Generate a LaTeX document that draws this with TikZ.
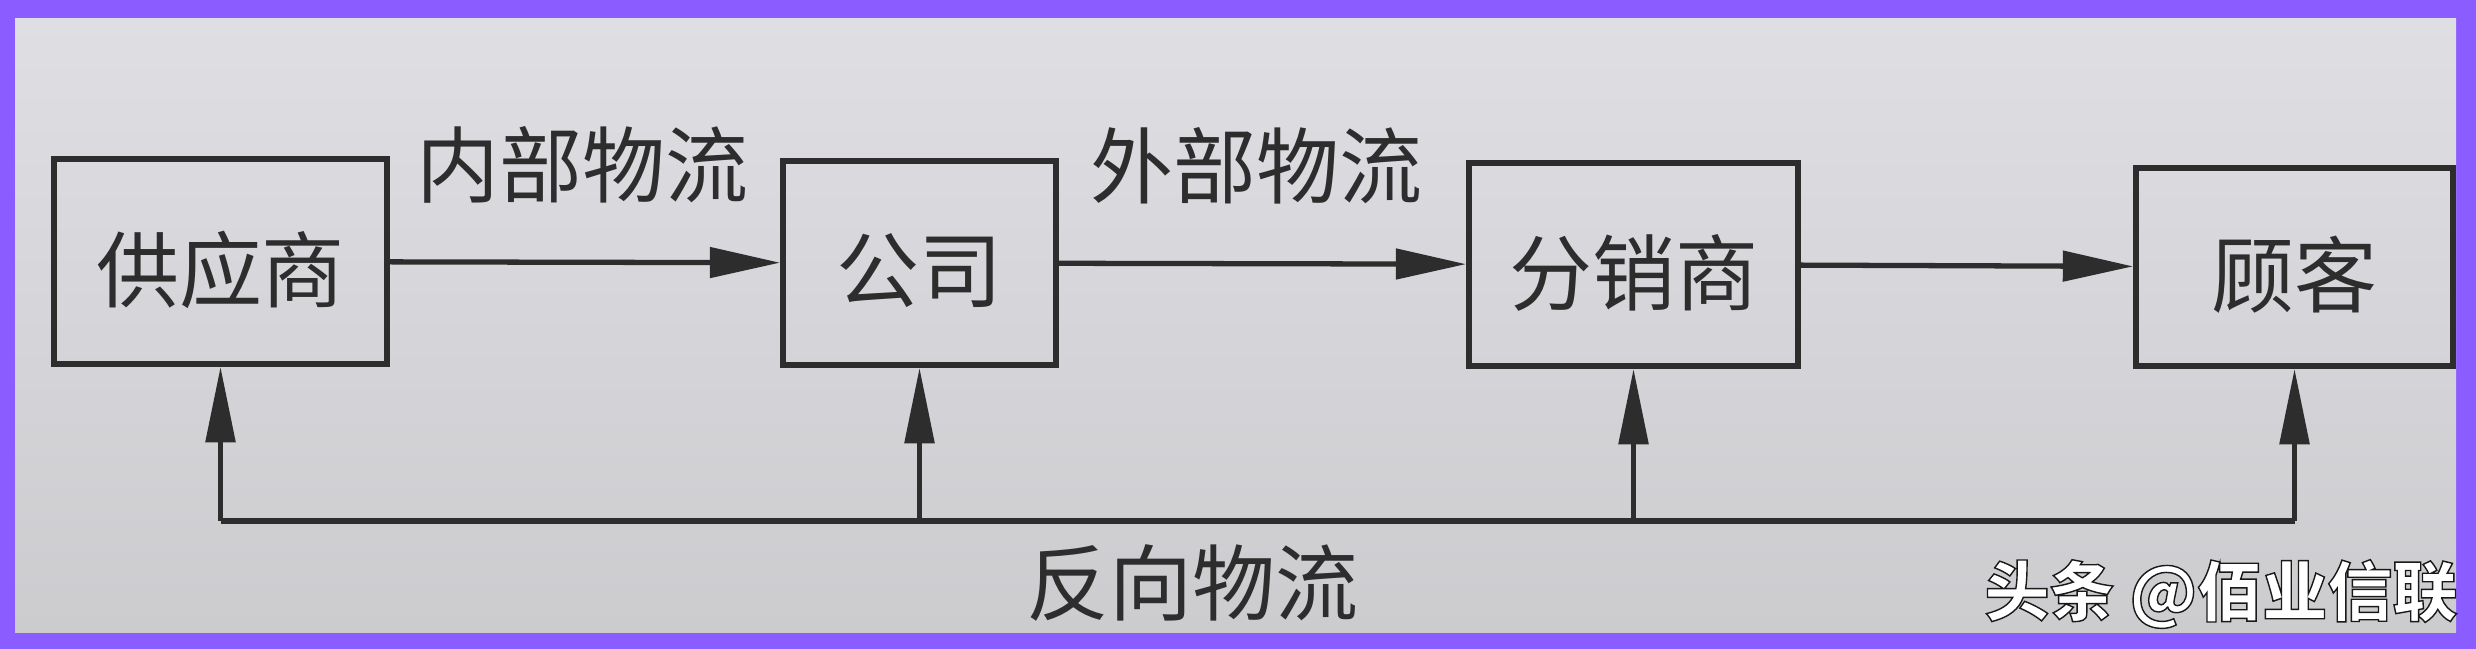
\documentclass[tikz,border=0pt]{standalone}
\usepackage{fontspec}
\newfontfamily\cjk{Noto Sans CJK SC}
\usetikzlibrary{arrows.meta}
\definecolor{frame}{RGB}{139,92,255}
\definecolor{papertop}{RGB}{223,222,227}
\definecolor{paperbot}{RGB}{204,204,207}
\definecolor{ink}{RGB}{45,45,45}
\newcommand\lowtext[1]{\raisebox{-0.08cm}[\height][\depth]{#1}}
\begin{document}
\begin{tikzpicture}[x=0.01cm,y=-0.01cm,
  box/.style={draw=ink,line width=1.6pt,inner sep=0pt,text=ink,
    font=\cjk\fontsize{23.6}{28}\selectfont},
  lbl/.style={inner sep=0pt,text=ink,font=\cjk\fontsize{23.6}{28}\selectfont},
  flow/.style={draw=ink,line width=1.5pt,-{Triangle[length=20pt,width=8.5pt]}},
  upflow/.style={draw=ink,line width=1.5pt,-{Triangle[length=21.5pt,width=8.3pt]}},
  fbline/.style={draw=ink,line width=1.5pt},
  wmark/.style={inner sep=0pt,font=\cjk\bfseries\fontsize{18.5}{22}\selectfont}]
\useasboundingbox (0,0) rectangle (2476,649);
\fill[frame] (0,0) rectangle (2476,649);
\shade[top color=papertop,bottom color=paperbot] (15,19) rectangle (2456,632);

\node[box,minimum width=3.33cm,minimum height=2.05cm] (A) at (220.5,261.5) {\lowtext{供应商}};
\node[box,minimum width=2.73cm,minimum height=2.04cm] (B) at (919.5,263) {\lowtext{公司}};
\node[box,minimum width=3.29cm,minimum height=2.03cm] (C) at (1633.5,264.5) {\lowtext{分销商}};
\node[box,minimum width=3.17cm,minimum height=1.98cm] (D) at (2294.5,267) {\lowtext{顾客}};

\node[lbl] (inner) at (582,165) {内部物流};
\node[lbl] (outer) at (1256,166) {外部物流};
\node[lbl] (rev) at (1192,583) {反向物流};

\draw[flow] (A) -- (B);
\draw[flow] (B) -- (C);
\draw[flow] (C) -- (D);

\coordinate (fb) at (0,521);
\draw[fbline] (A.south |- fb) -- (D.south |- fb);
\draw[upflow] (A.south |- fb) -- (A.south);
\draw[upflow] (B.south |- fb) -- (B.south);
\draw[upflow] (C.south |- fb) -- (C.south);
\draw[upflow] (D.south |- fb) -- (D.south);

\node[wmark] (wm) at (2221,594) {\color{white}\special{pdf:literal direct 0.1 0.1 0.1 RG 2 Tr 0.4 w}头条 @佰业信联\special{pdf:literal direct 0 Tr}};
\end{tikzpicture}
\end{document}
